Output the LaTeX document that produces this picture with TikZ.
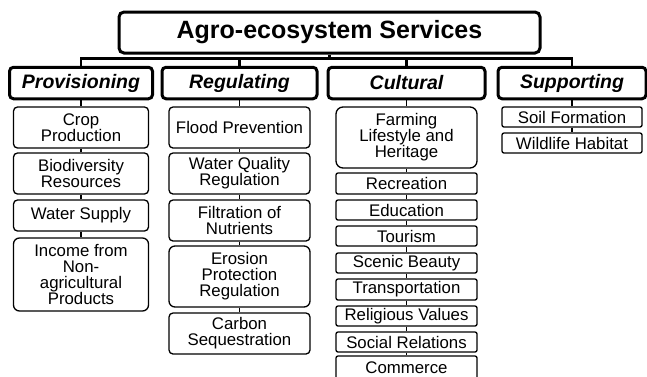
\documentclass[tikz,border=0pt]{standalone}
\usepackage{fontspec}
\setmainfont{Liberation Sans}
\begin{document}
\begin{tikzpicture}[x=1pt,y=-1pt,
  titlebox/.style={draw=black,line width=3pt,rounded corners=5pt,fill=white,inner sep=0pt,
    minimum width=421pt,minimum height=41pt,font=\fontsize{25}{28}\selectfont\bfseries},
  catbox/.style={draw=black,line width=3pt,rounded corners=4pt,fill=white,inner sep=0pt,
    minimum height=31.5pt,font=\fontsize{19.5}{22}\selectfont\bfseries\itshape},
  itembox/.style={draw=black,line width=1.3pt,rounded corners=4pt,fill=white,inner sep=0pt,
    align=center,font=\fontsize{16.8}{16}\selectfont},
  smallbox/.style={itembox,rounded corners=2pt},
  toplink/.style={draw=black,line width=2.5pt},
  link/.style={draw=black,line width=1.3pt}]
\useasboundingbox (0,0) rectangle (647,376);
\clip (0,0) rectangle (647,376);
\fill[white] (0,0) rectangle (647,376);

% title and categories
\node[titlebox] (title) at (329.5,32.5) {Agro-ecosystem Services};
\coordinate (bar) at (329.5,58.5);
\node[catbox,minimum width=143pt] (catP) at (81,83) {Provisioning};
\node[catbox,minimum width=155pt] (catR) at (239.5,83) {Regulating};
\node[catbox,minimum width=157pt] (catC) at (406.5,83) {Cultural};
\node[catbox,minimum width=148pt] (catS) at (572,83) {Supporting};

\draw[toplink] (title.south) -- (bar);
\draw[toplink] (catP.north) |- (bar) -| (catS.north);
\draw[toplink] (catR.north) -- (catR.north |- bar);
\draw[toplink] (catC.north) -- (catC.north |- bar);

% Provisioning
\node[itembox,minimum width=135pt,minimum height=41pt] (p1) at (81,127.5) {Crop\\Production};
\node[itembox,minimum width=135pt,minimum height=41pt] (p2) at (81,173.5) {Biodiversity\\Resources};
\node[itembox,minimum width=135pt,minimum height=31pt] (p3) at (81,215.5) {Water Supply};
\node[itembox,minimum width=135pt,minimum height=73pt,rounded corners=6pt] (p4) at (81,274.5) {Income from\\Non-\\agricultural\\Products};

% Regulating
\node[itembox,minimum width=141pt,minimum height=41pt] (r1) at (239.5,127.5) {Flood Prevention};
\node[itembox,minimum width=141pt,minimum height=41pt] (r2) at (239.5,173.5) {Water Quality\\Regulation};
\node[itembox,minimum width=141pt,minimum height=41pt] (r3) at (239.5,220.5) {Filtration of\\Nutrients};
\node[itembox,minimum width=141pt,minimum height=61pt,rounded corners=6pt] (r4) at (239.5,276.5) {Erosion\\Protection\\Regulation};
\node[itembox,minimum width=141pt,minimum height=41pt] (r5) at (239.5,333.5) {Carbon\\Sequestration};

% Cultural
\node[itembox,minimum width=141pt,minimum height=61pt,rounded corners=7pt] (c1) at (406.5,137.5) {Farming\\Lifestyle and\\Heritage};
\node[smallbox,minimum width=141pt,minimum height=21pt] (c2) at (406.5,183.5) {Recreation};
\node[smallbox,minimum width=141pt,minimum height=20pt] (c3) at (406.5,210) {Education};
\node[smallbox,minimum width=141pt,minimum height=20pt] (c4) at (406.5,236) {Tourism};
\node[smallbox,minimum width=141pt,minimum height=20pt] (c5) at (406.5,263) {Scenic Beauty};
\node[smallbox,minimum width=141pt,minimum height=21pt] (c6) at (406.5,289.5) {Transportation};
\node[smallbox,minimum width=141pt,minimum height=20pt] (c7) at (406.5,316) {Religious Values};
\node[smallbox,minimum width=141pt,minimum height=20pt] (c8) at (406.5,342) {Social Relations};
\node[smallbox,minimum width=141pt,minimum height=24pt] (c9) at (406.5,368) {Commerce};

% Supporting
\node[smallbox,minimum width=140pt,minimum height=20pt] (s1) at (572,117) {Soil Formation};
\node[smallbox,minimum width=140pt,minimum height=20pt] (s2) at (572,143) {Wildlife Habitat};

% item connectors
\draw[link] (catP.south) -- (p1.north) (p1.south) -- (p2.north) (p2.south) -- (p3.north) (p3.south) -- (p4.north);
\draw[link] (catR.south) -- (r1.north) (r1.south) -- (r2.north) (r2.south) -- (r3.north) (r3.south) -- (r4.north) (r4.south) -- (r5.north);
\draw[link] (catC.south) -- (c1.north) (c1.south) -- (c2.north) (c2.south) -- (c3.north) (c3.south) -- (c4.north)
  (c4.south) -- (c5.north) (c5.south) -- (c6.north) (c6.south) -- (c7.north) (c7.south) -- (c8.north) (c8.south) -- (c9.north);
\draw[link] (catS.south) -- (s1.north) (s1.south) -- (s2.north);
\end{tikzpicture}
\end{document}
